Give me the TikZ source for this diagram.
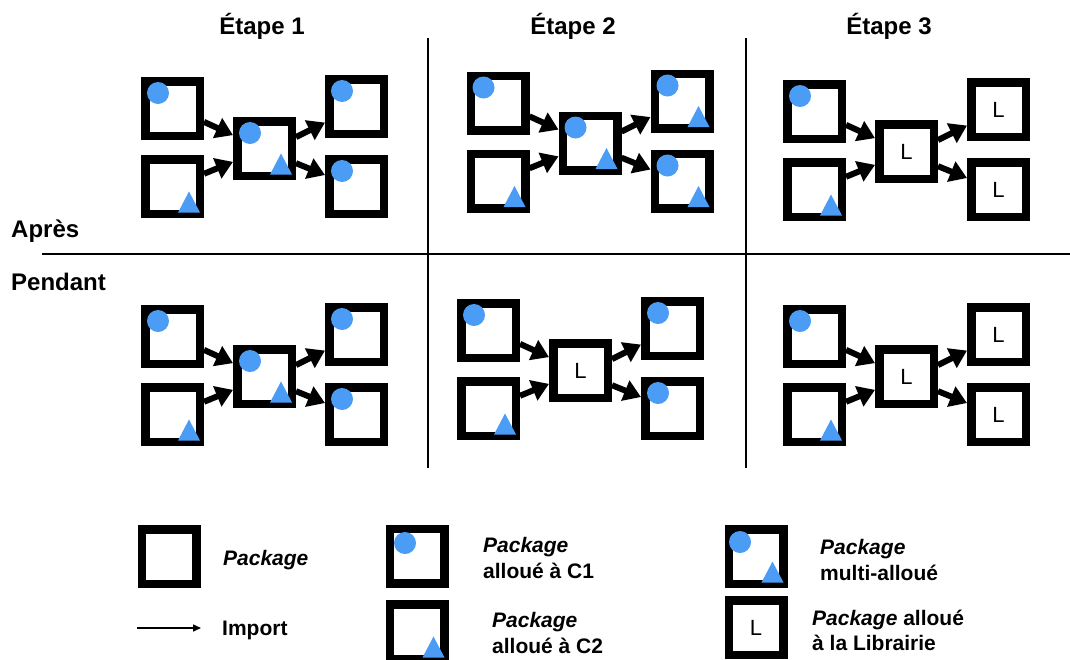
\documentclass[tikz,border=0pt]{standalone}
\usepackage{fontspec}
\setmainfont{Liberation Sans}
\usetikzlibrary{arrows.meta,calc}
\definecolor{dotblue}{HTML}{4A9CF5}
\tikzset{
 pk/.style={draw=black, line width=8.5pt, minimum size=54.5pt, inner sep=0pt, fill=white, font=\fontsize{22}{24}\selectfont},
 imp/.style={line width=6pt, -{Triangle[length=17pt 0,width=21pt 0]}},
 legarrow/.style={line width=1.5pt, -{Triangle[length=8pt 0,width=7pt 0]}},
 rule/.style={line width=1.5pt},
 head/.style={font=\fontsize{24}{28}\selectfont\bfseries, anchor=base, inner sep=0pt},
 rowlab/.style={font=\fontsize{24}{28}\selectfont\bfseries, anchor=base west, inner sep=0pt},
 legtxt/.style={font=\fontsize{21}{24}\selectfont\bfseries, anchor=base west, inner sep=0pt},
}
\newcommand{\mkpanel}[6]{%
 \node[pk] (#1m) at (#2,#3) {#4};
 \node[pk] (#1tl) at (#2-92,#3-40) {};
 \node[pk] (#1bl) at (#2-92,#3+38) {};
 \node[pk] (#1rt) at (#2+92,#3-42) {#5};
 \node[pk] (#1rb) at (#2+92,#3+38) {#6};
 \draw[imp] (#1tl.-23) -- (#1m.157);
 \draw[imp] (#1bl.22) -- (#1m.-157);
 \draw[imp] (#1m.20) -- (#1rt.-153);
 \draw[imp] (#1m.-25) -- (#1rb.160);
}
\newcommand{\dotc}[1]{\fill[dotblue] ($(#1.center)+(-14.5,-15.5)$) circle[radius=11pt];}
\newcommand{\trit}[1]{\fill[dotblue] ($(#1.center)+(5.5,26)$) -- ++(22,0) -- ++(-11,-21) -- cycle;}
\begin{document}
\begin{tikzpicture}[x=1pt,y=-1pt]
\fill[white] (0,0) rectangle (1070,659);
\useasboundingbox (0,0) rectangle (1070,659);
% grid lines
\draw[rule] (428,38) -- (428,468);
\draw[rule] (746,38) -- (746,468);
\draw[rule] (42,254) -- (1070,254);
% headings
\node[head] (h1) at (262,34) {Étape 1};
\node[head] (h2) at (573,34) {Étape 2};
\node[head] (h3) at (889,34) {Étape 3};
\node[rowlab] (r1) at (11,237) {Après};
\node[rowlab] (r2) at (11,290) {Pendant};
% panels
\mkpanel{A}{264.5}{148.5}{}{}{}
\dotc{Atl}\trit{Abl}\dotc{Am}\trit{Am}\dotc{Art}\dotc{Arb}
\mkpanel{D}{264.5}{376.5}{}{}{}
\dotc{Dtl}\trit{Dbl}\dotc{Dm}\trit{Dm}\dotc{Drt}\dotc{Drb}
\mkpanel{B}{590}{143}{}{}{}
\dotc{Btl}\trit{Bbl}\dotc{Bm}\trit{Bm}\dotc{Brt}\trit{Brt}\dotc{Brb}\trit{Brb}
\mkpanel{E}{580.5}{370.5}{L}{}{}
\dotc{Etl}\trit{Ebl}\dotc{Ert}\dotc{Erb}
\mkpanel{C}{906.5}{151.5}{L}{L}{L}
\dotc{Ctl}\trit{Cbl}
\mkpanel{F}{906.5}{376.5}{L}{L}{L}
\dotc{Ftl}\trit{Fbl}
% legend
\node[pk] (lp) at (169,556.5) {};
\node[legtxt] (tp) at (223,565) {\itshape Package};
\coordinate (la1) at (137,628);
\coordinate (la2) at (201,628);
\draw[legarrow] (la1) -- (la2);
\node[legtxt] (ti) at (222,635) {Import};
\node[pk] (lc1) at (417,556) {};
\fill[dotblue] ($(lc1.center)+(-12,-13)$) circle[radius=11pt];
\node[legtxt] (tc1a) at (483,552) {\itshape Package};
\node[legtxt] (tc1b) at (483,578) {alloué à C1};
\node[pk] (lc2) at (417,631.5) {};
\trit{lc2}
\node[legtxt] (tc2a) at (492,627) {\itshape Package};
\node[legtxt] (tc2b) at (492,653) {alloué à C2};
\node[pk] (lm) at (756,556.5) {};
\fill[dotblue] ($(lm.center)+(-16,-14.5)$) circle[radius=11pt];
\trit{lm}
\node[legtxt] (tma) at (820,554) {\itshape Package};
\node[legtxt] (tmb) at (820,580) {multi-alloué};
\node[pk] (ll) at (756,627.5) {L};
\node[legtxt] (tla) at (812,625) {{\itshape Package} alloué};
\node[legtxt] (tlb) at (812,650) {à la Librairie};
\end{tikzpicture}
\end{document}
